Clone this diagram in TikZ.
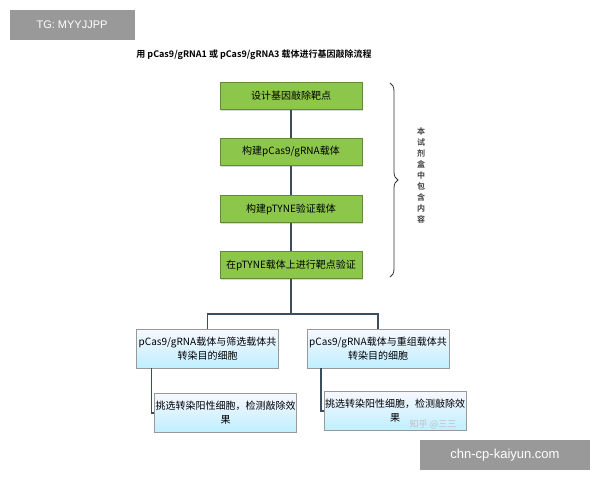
\documentclass[tikz,border=0pt]{standalone}
\usepackage{fontspec}
\setmainfont{Liberation Sans}
\newfontfamily\cjk{Noto Sans CJK SC}
\newfontfamily\cjkb{Noto Sans CJK SC Bold}
\usetikzlibrary{decorations.pathreplacing,shadows}
\definecolor{gbox}{HTML}{8CC64A}
\definecolor{bline}{HTML}{3C4E5E}
\begin{document}
\begin{tikzpicture}[x=1pt,y=-1pt,
 green/.style={draw=gbox!70!black,fill=gbox,minimum width=142pt,minimum height=27pt,font=\cjk\fontsize{10}{12}\selectfont,drop shadow={opacity=0.3,shadow xshift=1pt,shadow yshift=-1pt}},
 blue/.style={draw=black!40,top color=blue!3,bottom color=blue!25!cyan!25,minimum width=142pt,minimum height=39pt,align=center,font=\cjk\fontsize{10}{14}\selectfont,inner sep=1pt,text width=140pt},
 conn/.style={draw=bline,line width=1.2pt}]
\useasboundingbox (0,0) rectangle (600,480);
\fill[white] (0,0) rectangle (600,480);
\node[fill=black!40,text=white,font=\fontsize{11}{13}\selectfont,minimum width=125pt,minimum height=30pt] (tg) at (72,25) {TG: MYYJJPP};
\node[font=\cjkb\fontsize{9}{10}\selectfont] (title) at (254,55) {用 pCas9/gRNA1 或 pCas9/gRNA3 载体进行基因敲除流程};
\node[green] (g1) at (291,96) {设计基因敲除靶点};
\node[green] (g2) at (291,152) {构建pCas9/gRNA载体};
\node[green] (g3) at (291,209) {构建pTYNE验证载体};
\node[green] (g4) at (291,265) {在pTYNE载体上进行靶点验证};
\draw[conn] (g1) -- (g2); \draw[conn] (g2) -- (g3); \draw[conn] (g3) -- (g4);
\node[blue] (b1) at (207.5,348.5) {pCas9/gRNA载体与筛选载体共\\转染目的细胞};
\node[blue] (b2) at (378,348.5) {pCas9/gRNA载体与重组载体共\\转染目的细胞};
\node[blue] (c1) at (225.5,413) {挑选转染阳性细胞，检测敲除效\\果};
\node[blue] (c2) at (395,411) {挑选转染阳性细胞，检测敲除效\\果};
\coordinate (j) at (291,314);
\draw[conn] (g4.south) -- (j);
\draw[conn] (b1.north) |- (j) -| (b2.north);
\draw[conn] ([xshift=-56pt]b1.south) |- (c1.west);
\draw[conn] ([xshift=-57pt]b2.south) |- (c2.west);
\draw[black!80,line width=0.8pt,decorate,decoration={brace,amplitude=8pt}] (390,83) -- (390,277);
\node[font=\cjkb\fontsize{8}{11}\selectfont,text=black!75,align=center] (side) at (421,175) {本\\试\\剂\\盒\\中\\包\\含\\内\\容};
\node[font=\cjk\fontsize{9}{10}\selectfont,text=black!25] (zh) at (433,424) {知乎 @三三};
\node[fill=black!40,text=white,font=\fontsize{13}{15}\selectfont,minimum width=170pt,minimum height=30pt] (url) at (505,455) {chn-cp-kaiyun.com};
\end{tikzpicture}
\end{document}
